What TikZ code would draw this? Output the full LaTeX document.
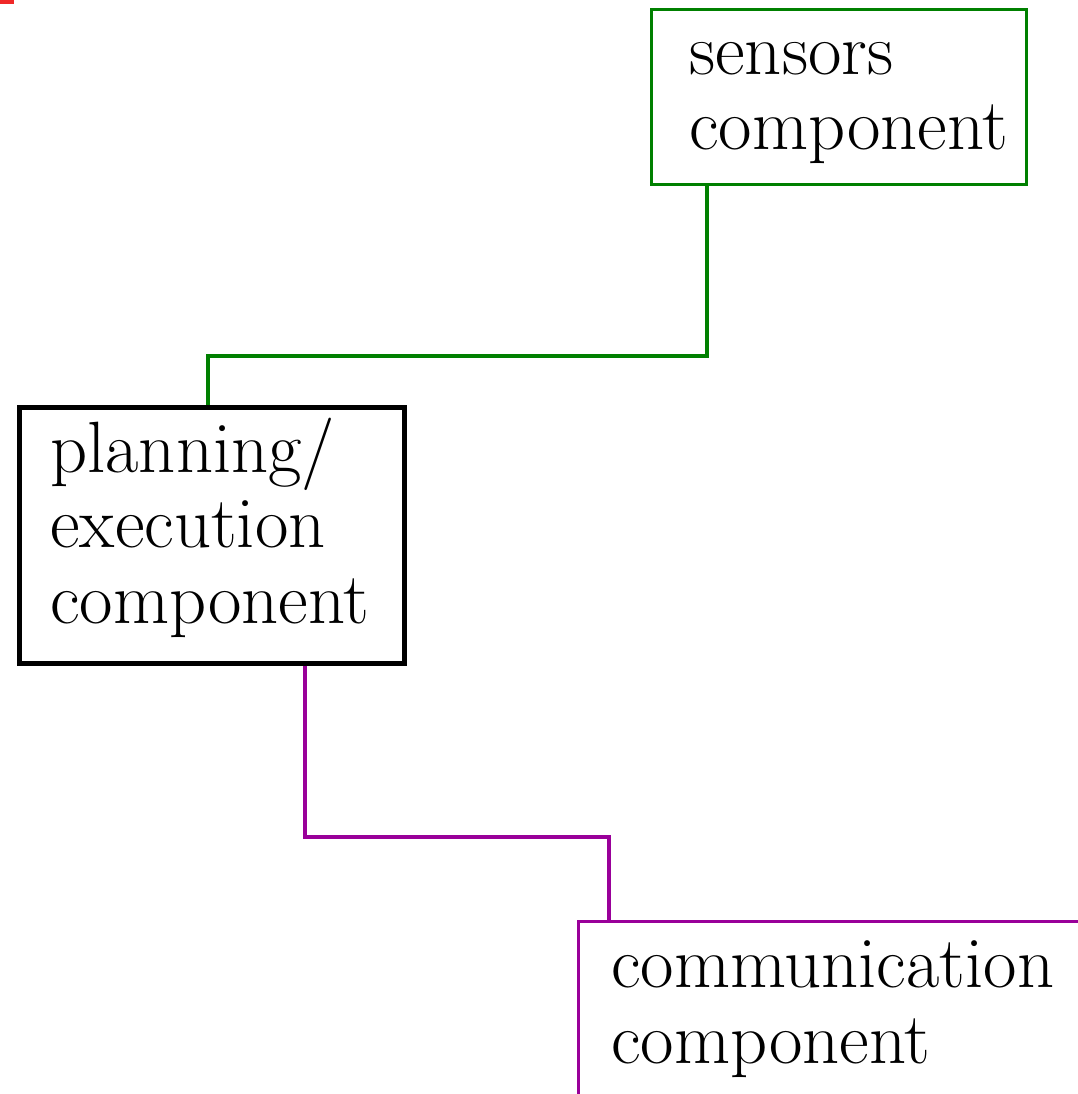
\documentclass[tikz,border=0pt]{standalone}
\usetikzlibrary{calc}
\definecolor{gcol}{RGB}{0,128,0}
\definecolor{pcol}{RGB}{153,0,153}
\definecolor{rcol}{RGB}{240,40,40}
\tikzset{
  gline/.style={draw=gcol, line width=2.6pt},
  pline/.style={draw=pcol, line width=2.6pt},
  bline/.style={draw=black, line width=3.4pt},
  boxn/.style={rectangle, anchor=north west, inner sep=0pt},
  txt/.style={anchor=base west, align=left, inner sep=0pt,
    font=\fontsize{54.5}{56.3}\selectfont},
}
\begin{document}
\begin{tikzpicture}[x=0.75pt,y=-0.75pt]
\useasboundingbox (0,0) rectangle (1077,1094);
\fill[rcol] (0,0) rectangle (14,4);
% boxes
\node[boxn, gline, minimum width=375*0.75pt, minimum height=175*0.75pt] (sens) at (650,8) {};
\node[boxn, bline, minimum width=385*0.75pt, minimum height=256*0.75pt] (plan) at (17,405) {};
\node[boxn, pline, minimum width=560*0.75pt, minimum height=250*0.75pt] (comm) at (577,920) {};
% texts (anchored at the baseline of the last line)
\node[txt] (senst) at (689,150) {sensors\\component};
\node[txt] (plant) at (50,623) {planning/\\execution\\component};
\node[txt] (commt) at (611,1063) {communication\\component};
% connectors
\draw[gline] ($(sens.south west)+(57,0)$) |- ($(plan.north west)+(191,-49)$) -- ($(plan.north west)+(191,0)$);
\draw[pline] ($(plan.south west)+(288,0)$) |- ($(comm.north west)+(32,-83)$) -- ($(comm.north west)+(32,0)$);
\end{tikzpicture}
\end{document}
